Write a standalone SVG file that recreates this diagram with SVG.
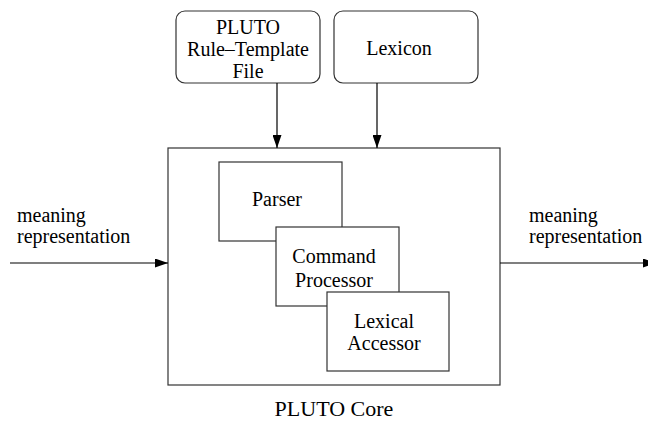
<svg xmlns="http://www.w3.org/2000/svg" width="648" height="423" viewBox="0 0 648 423">
<style>
text{font-family:"Liberation Serif","Times New Roman",serif;font-size:20px;fill:#000}
.c{text-anchor:middle}
.cap{font-size:22px}
.box{fill:#fff;stroke:#333;stroke-width:1.2}
.ln{stroke:#000;stroke-width:1.2;fill:none}
</style>
<defs>
<marker id="ah" viewBox="0 0 13 9" refX="13" refY="4.5" markerWidth="13" markerHeight="9" markerUnits="userSpaceOnUse" orient="auto">
<path d="M0,0 L13,4.5 L0,9 Z" fill="#000"/>
</marker>
</defs>
<rect width="648" height="423" fill="#fff"/>
<g id="core">
<rect class="box" x="168" y="148" width="332" height="237"/>
<text class="c cap" x="334" y="416">PLUTO Core</text>
</g>
<g id="rule-template">
<rect class="box" x="176" y="11" width="144" height="72" rx="9"/>
<text class="c" x="248" y="34">PLUTO</text>
<text class="c" x="248" y="56">Rule–Template</text>
<text class="c" x="248" y="78">File</text>
</g>
<g id="lexicon">
<rect class="box" x="334" y="11" width="144" height="72" rx="9"/>
<text class="c" x="399" y="55">Lexicon</text>
</g>
<g id="parser">
<rect class="box" x="219" y="162" width="123" height="79"/>
<text class="c" x="277" y="206">Parser</text>
</g>
<g id="command-processor">
<rect class="box" x="276" y="227" width="123" height="79"/>
<text class="c" x="334" y="263">Command</text>
<text class="c" x="334" y="287">Processor</text>
</g>
<g id="lexical-accessor">
<rect class="box" x="327" y="292" width="122" height="79"/>
<text class="c" x="384" y="328">Lexical</text>
<text class="c" x="384" y="350">Accessor</text>
</g>
<g id="labels">
<text x="17" y="222">meaning</text>
<text x="17" y="243">representation</text>
<text x="529" y="222">meaning</text>
<text x="529" y="243">representation</text>
</g>
<g id="connectors">
<line class="ln" x1="277" y1="83" x2="277" y2="148" marker-end="url(#ah)"/>
<line class="ln" x1="377" y1="83" x2="377" y2="148" marker-end="url(#ah)"/>
<line class="ln" x1="10" y1="263" x2="168" y2="263" marker-end="url(#ah)"/>
<line class="ln" x1="500" y1="263" x2="656" y2="263" marker-end="url(#ah)"/>
</g>
</svg>
